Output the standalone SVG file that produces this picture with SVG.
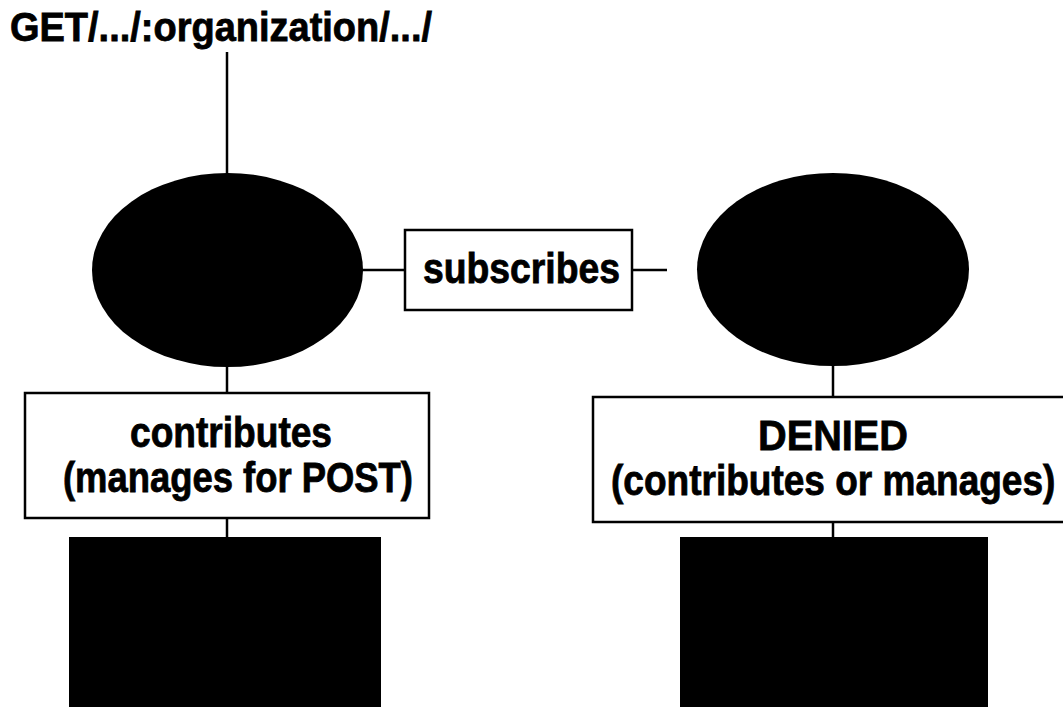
<svg xmlns="http://www.w3.org/2000/svg" width="1063" height="707" viewBox="0 0 1063 707">
<style>
.lbl{font-family:"Liberation Sans",Arial,Helvetica,sans-serif;font-weight:bold;font-size:42px;fill:#000;stroke:#000;stroke-width:0.8}
.box{fill:#fff;stroke:#000;stroke-width:2.5}
.blk{fill:#000}
.con{stroke:#000;stroke-width:2.5;fill:none}
</style>
<rect width="1063" height="707" fill="#fff"/>
<g id="connectors">
<line class="con" x1="227" y1="52" x2="227" y2="175"/>
<line class="con" x1="362" y1="270" x2="405" y2="270"/>
<line class="con" x1="632" y1="270" x2="667" y2="270"/>
<line class="con" x1="227" y1="365" x2="227" y2="393"/>
<line class="con" x1="227" y1="518" x2="227" y2="538"/>
<line class="con" x1="833" y1="364" x2="833" y2="397"/>
<line class="con" x1="833" y1="522" x2="833" y2="538"/>
</g>
<g id="title">
<text class="lbl" x="10" y="41" style="font-size:40px" textLength="422" lengthAdjust="spacingAndGlyphs">GET/.../:organization/.../</text>
</g>
<g id="node-left-ellipse">
<ellipse class="blk" cx="227.5" cy="270" rx="135.5" ry="97"/>
</g>
<g id="node-right-ellipse">
<ellipse class="blk" cx="833" cy="269.5" rx="136" ry="96.5"/>
</g>
<g id="node-subscribes">
<rect class="box" x="405" y="230" width="227" height="80"/>
<text class="lbl" x="423" y="283" textLength="197" lengthAdjust="spacingAndGlyphs">subscribes</text>
</g>
<g id="node-contributes">
<rect class="box" x="25" y="393" width="404" height="125"/>
<text class="lbl" x="130" y="447" textLength="202" lengthAdjust="spacingAndGlyphs">contributes</text>
<text class="lbl" x="63" y="492" textLength="350" lengthAdjust="spacingAndGlyphs">(manages for POST)</text>
</g>
<g id="node-denied">
<rect class="box" x="593" y="397" width="480" height="125"/>
<text class="lbl" x="758" y="450" textLength="150" lengthAdjust="spacingAndGlyphs">DENIED</text>
<text class="lbl" transform="translate(611,495) scale(0.882,1)" x="0" y="0">(contributes or manages)</text>
</g>
<g id="node-left-rect">
<rect class="blk" x="69" y="537" width="312" height="180"/>
</g>
<g id="node-right-rect">
<rect class="blk" x="680" y="537" width="308" height="180"/>
</g>
</svg>
